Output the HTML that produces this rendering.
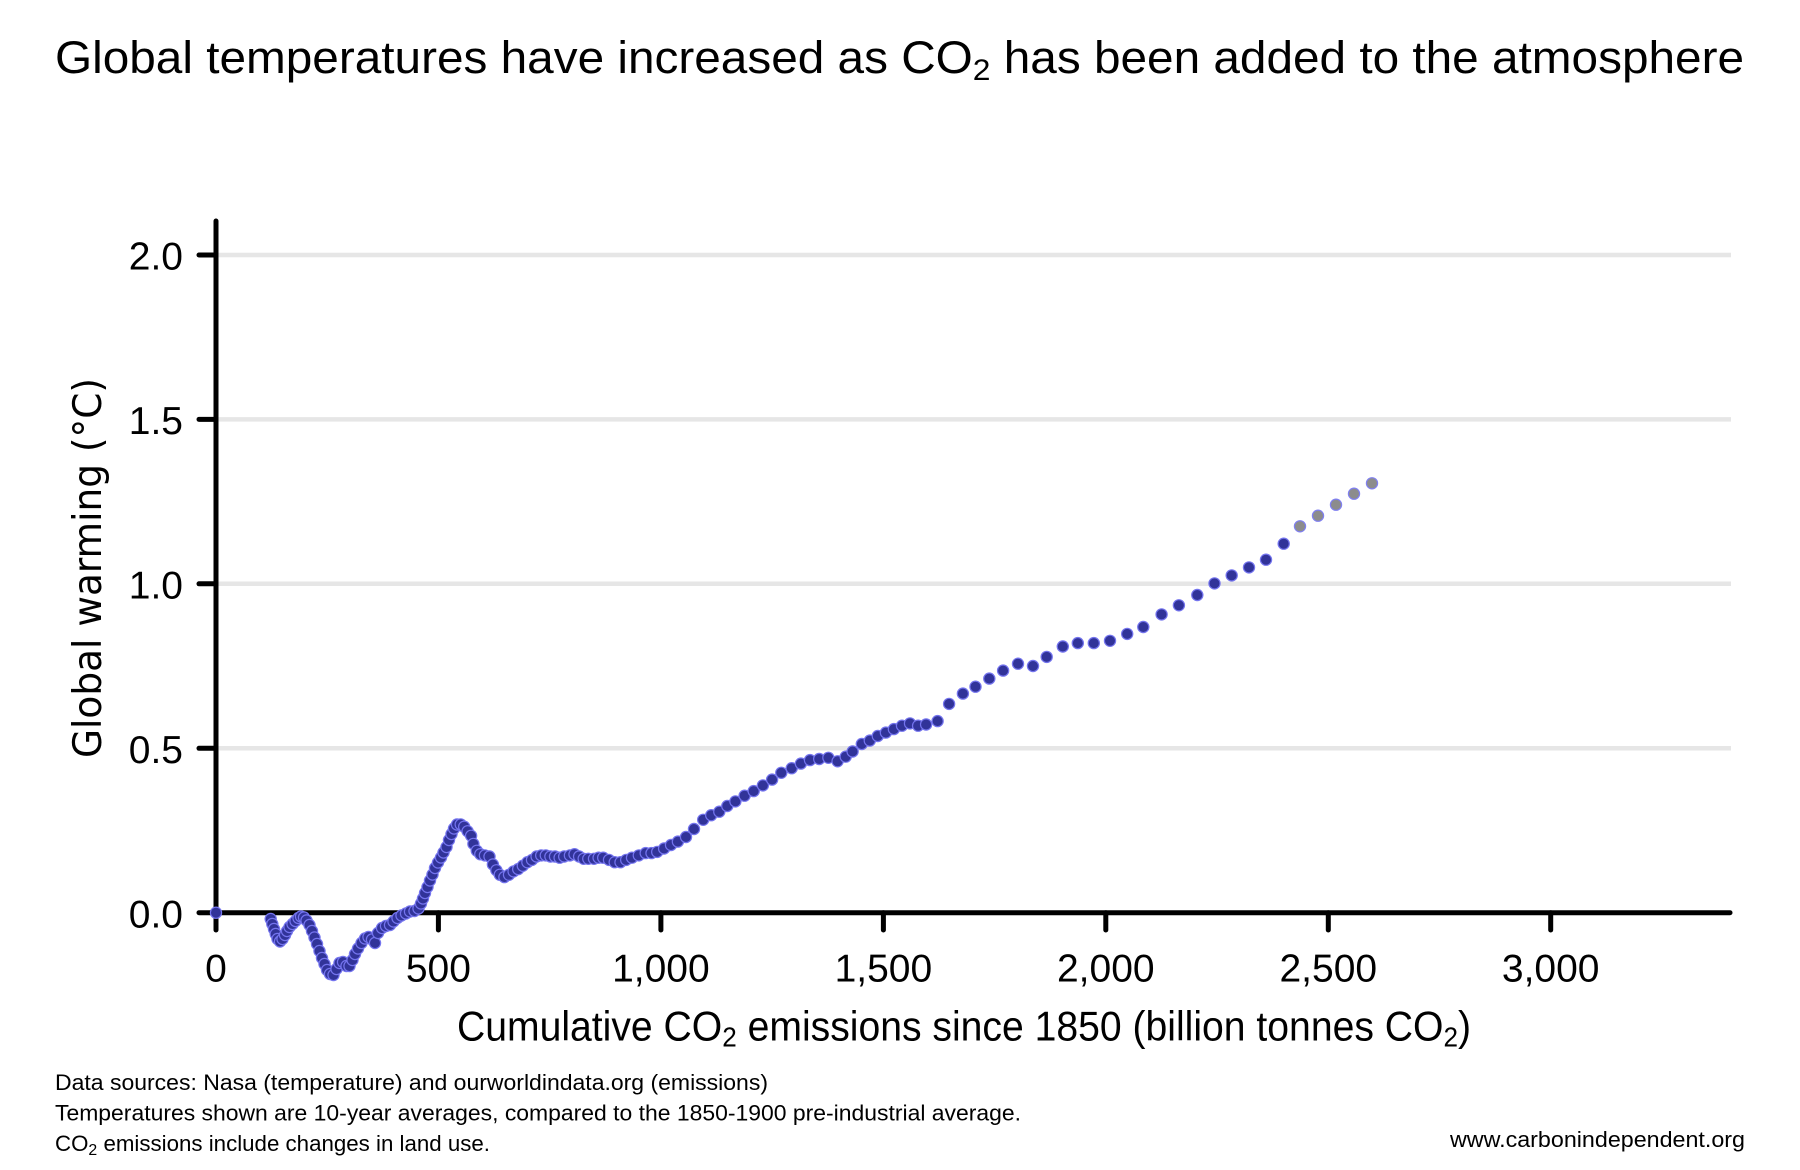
<!DOCTYPE html>
<html>
<head>
<meta charset="utf-8">
<style>
  html, body { margin: 0; padding: 0; background: #ffffff; }
  svg { display: block; }
  text { font-family: "Liberation Sans", "DejaVu Sans", sans-serif; fill: #000; }
</style>
</head>
<body>
<svg xmlns="http://www.w3.org/2000/svg" width="1800" height="1170" viewBox="0 0 1800 1170">
  <rect x="0" y="0" width="1800" height="1170" fill="#ffffff"/>

  <!-- Title -->
  <text x="55" y="73" font-size="45" textLength="1689" lengthAdjust="spacingAndGlyphs">Global temperatures have increased as CO<tspan font-size="30" dy="7">2</tspan><tspan dy="-7"> has been added to the atmosphere</tspan></text>

  <!-- Gridlines -->
  <g stroke="#e6e6e6" stroke-width="4.5">
    <line x1="218" y1="255" x2="1731" y2="255"/>
    <line x1="218" y1="419.4" x2="1731" y2="419.4"/>
    <line x1="218" y1="583.8" x2="1731" y2="583.8"/>
    <line x1="218" y1="748.3" x2="1731" y2="748.3"/>
  </g>

  <!-- Axes -->
  <g stroke="#000" stroke-width="5" stroke-linecap="round">
    <line x1="216" y1="221" x2="216" y2="930"/>
    <line x1="216" y1="912.7" x2="1730" y2="912.7"/>
    <line x1="199" y1="255" x2="216" y2="255"/>
    <line x1="199" y1="419.4" x2="216" y2="419.4"/>
    <line x1="199" y1="583.8" x2="216" y2="583.8"/>
    <line x1="199" y1="748.3" x2="216" y2="748.3"/>
    <line x1="199" y1="912.7" x2="216" y2="912.7"/>
    <line x1="438.4" y1="912.7" x2="438.4" y2="930"/>
    <line x1="660.9" y1="912.7" x2="660.9" y2="930"/>
    <line x1="883.4" y1="912.7" x2="883.4" y2="930"/>
    <line x1="1105.8" y1="912.7" x2="1105.8" y2="930"/>
    <line x1="1328.3" y1="912.7" x2="1328.3" y2="930"/>
    <line x1="1550.7" y1="912.7" x2="1550.7" y2="930"/>
  </g>

  <!-- Y tick labels -->
  <g font-size="39" text-anchor="end">
    <text x="183" y="269.5">2.0</text>
    <text x="183" y="434">1.5</text>
    <text x="183" y="598.3">1.0</text>
    <text x="183" y="762.8">0.5</text>
    <text x="183" y="927.5">0.0</text>
  </g>

  <!-- X tick labels -->
  <g font-size="39" text-anchor="middle">
    <text x="216" y="981.5">0</text>
    <text x="438.4" y="981.5">500</text>
    <text x="660.9" y="981.5">1,000</text>
    <text x="883.4" y="981.5">1,500</text>
    <text x="1105.8" y="981.5">2,000</text>
    <text x="1328.3" y="981.5">2,500</text>
    <text x="1550.7" y="981.5">3,000</text>
  </g>

  <!-- X axis title -->
  <text x="457" y="1040.5" font-size="42" textLength="1014" lengthAdjust="spacingAndGlyphs">Cumulative CO<tspan font-size="28" dy="6">2</tspan><tspan dy="-6"> emissions since 1850 (billion tonnes CO</tspan><tspan font-size="28" dy="6">2</tspan><tspan dy="-6">)</tspan></text>

  <!-- Y axis title -->
  <text transform="translate(101,568) rotate(-90)" x="0" y="0" text-anchor="middle" font-size="39" textLength="380" lengthAdjust="spacingAndGlyphs" style="font-family:'DejaVu Sans','Liberation Sans',sans-serif;">Global warming (°C)</text>

  <!-- Data points (dark) -->
  <g fill="#313399" stroke="#7474ee" stroke-width="1.2">
    <circle cx="216" cy="912.7" r="5.6"/>
    <circle cx="270.7" cy="919" r="5.6"/>
    <circle cx="272.3" cy="924" r="5.6"/>
    <circle cx="274" cy="929" r="5.6"/>
    <circle cx="275.7" cy="934" r="5.6"/>
    <circle cx="277.5" cy="939" r="5.6"/>
    <circle cx="280" cy="941.5" r="5.6"/>
    <circle cx="282.5" cy="939" r="5.6"/>
    <circle cx="285" cy="935" r="5.6"/>
    <circle cx="287" cy="931" r="5.6"/>
    <circle cx="289.5" cy="927" r="5.6"/>
    <circle cx="292.5" cy="924" r="5.6"/>
    <circle cx="295.5" cy="921" r="5.6"/>
    <circle cx="298.5" cy="918" r="5.6"/>
    <circle cx="301" cy="916.5" r="5.6"/>
    <circle cx="304" cy="917.5" r="5.6"/>
    <circle cx="306.5" cy="920.5" r="5.6"/>
    <circle cx="309.5" cy="925" r="5.6"/>
    <circle cx="312" cy="931" r="5.6"/>
    <circle cx="314.5" cy="937.5" r="5.6"/>
    <circle cx="317" cy="944" r="5.6"/>
    <circle cx="319.5" cy="951" r="5.6"/>
    <circle cx="322" cy="958" r="5.6"/>
    <circle cx="324.5" cy="964" r="5.6"/>
    <circle cx="327" cy="970" r="5.6"/>
    <circle cx="330" cy="974" r="5.6"/>
    <circle cx="333.5" cy="975" r="5.6"/>
    <circle cx="336.5" cy="969" r="5.6"/>
    <circle cx="339.5" cy="963" r="5.6"/>
    <circle cx="343" cy="962" r="5.6"/>
    <circle cx="346.5" cy="966" r="5.6"/>
    <circle cx="349.5" cy="966" r="5.6"/>
    <circle cx="352.5" cy="960" r="5.6"/>
    <circle cx="355" cy="954" r="5.6"/>
    <circle cx="358" cy="948.5" r="5.6"/>
    <circle cx="361.5" cy="943" r="5.6"/>
    <circle cx="365" cy="938.5" r="5.6"/>
    <circle cx="368.5" cy="937" r="5.6"/>
    <circle cx="372" cy="939.5" r="5.6"/>
    <circle cx="375" cy="943" r="5.6"/>
    <circle cx="378" cy="933" r="5.6"/>
    <circle cx="382" cy="928" r="5.6"/>
    <circle cx="386" cy="926" r="5.6"/>
    <circle cx="390" cy="925" r="5.6"/>
    <circle cx="393.5" cy="921.5" r="5.6"/>
    <circle cx="397.5" cy="918" r="5.6"/>
    <circle cx="401.5" cy="915.5" r="5.6"/>
    <circle cx="406" cy="913.5" r="5.6"/>
    <circle cx="410" cy="911.5" r="5.6"/>
    <circle cx="414.5" cy="911" r="5.6"/>
    <circle cx="418.5" cy="908.5" r="5.6"/>
    <circle cx="421" cy="903.5" r="5.6"/>
    <circle cx="423" cy="898.5" r="5.6"/>
    <circle cx="425" cy="893" r="5.6"/>
    <circle cx="427.5" cy="887" r="5.6"/>
    <circle cx="430" cy="880.5" r="5.6"/>
    <circle cx="432.5" cy="874.5" r="5.6"/>
    <circle cx="435" cy="868" r="5.6"/>
    <circle cx="438" cy="862.5" r="5.6"/>
    <circle cx="441" cy="857.5" r="5.6"/>
    <circle cx="443.5" cy="852.5" r="5.6"/>
    <circle cx="446.5" cy="847" r="5.6"/>
    <circle cx="449" cy="840" r="5.6"/>
    <circle cx="451.5" cy="834" r="5.6"/>
    <circle cx="454" cy="828.5" r="5.6"/>
    <circle cx="457" cy="824.5" r="5.6"/>
    <circle cx="460.7" cy="824.4" r="5.6"/>
    <circle cx="464.2" cy="826.7" r="5.6"/>
    <circle cx="467.6" cy="831.3" r="5.6"/>
    <circle cx="471.1" cy="835.8" r="5.6"/>
    <circle cx="473.4" cy="843.9" r="5.6"/>
    <circle cx="476.8" cy="850.8" r="5.6"/>
    <circle cx="480.3" cy="854.2" r="5.6"/>
    <circle cx="484.9" cy="855.4" r="5.6"/>
    <circle cx="489.5" cy="856.5" r="5.6"/>
    <circle cx="492.9" cy="864.5" r="5.6"/>
    <circle cx="496.4" cy="870.3" r="5.6"/>
    <circle cx="499.8" cy="874.8" r="5.6"/>
    <circle cx="504.4" cy="877.1" r="5.6"/>
    <circle cx="509" cy="874.8" r="5.6"/>
    <circle cx="513.6" cy="871.4" r="5.6"/>
    <circle cx="518.2" cy="869.1" r="5.6"/>
    <circle cx="522.8" cy="865.7" r="5.6"/>
    <circle cx="527.4" cy="862.2" r="5.6"/>
    <circle cx="532" cy="859.9" r="5.6"/>
    <circle cx="536.6" cy="856.5" r="5.6"/>
    <circle cx="541.2" cy="855.4" r="5.6"/>
    <circle cx="545.8" cy="855.4" r="5.6"/>
    <circle cx="550.4" cy="856.5" r="5.6"/>
    <circle cx="555" cy="856.5" r="5.6"/>
    <circle cx="559.6" cy="857.7" r="5.6"/>
    <circle cx="564.2" cy="856.5" r="5.6"/>
    <circle cx="569.9" cy="855.4" r="5.6"/>
    <circle cx="574.5" cy="854.2" r="5.6"/>
    <circle cx="579.1" cy="856.5" r="5.6"/>
    <circle cx="583.7" cy="858.8" r="5.6"/>
    <circle cx="588.3" cy="858.8" r="5.6"/>
    <circle cx="594" cy="858.8" r="5.6"/>
    <circle cx="598.6" cy="857.7" r="5.6"/>
    <circle cx="603.2" cy="857.7" r="5.6"/>
    <circle cx="609" cy="859.9" r="5.6"/>
    <circle cx="614.7" cy="862.2" r="5.6"/>
    <circle cx="620.5" cy="862.2" r="5.6"/>
    <circle cx="626.2" cy="859.9" r="5.6"/>
    <circle cx="632" cy="857.7" r="5.6"/>
    <circle cx="638.8" cy="855.4" r="5.6"/>
    <circle cx="645.7" cy="853.1" r="5.6"/>
    <circle cx="651.5" cy="853.1" r="5.6"/>
    <circle cx="657.2" cy="851.9" r="5.6"/>
    <circle cx="664.1" cy="848.5" r="5.6"/>
    <circle cx="671" cy="845" r="5.6"/>
    <circle cx="677.9" cy="841.6" r="5.6"/>
    <circle cx="686" cy="837" r="5.6"/>
    <circle cx="694" cy="829" r="5.6"/>
    <circle cx="703.2" cy="819.8" r="5.6"/>
    <circle cx="711.2" cy="815.2" r="5.6"/>
    <circle cx="719.3" cy="811.7" r="5.6"/>
    <circle cx="727.3" cy="806" r="5.6"/>
    <circle cx="735.4" cy="801.4" r="5.6"/>
    <circle cx="744.6" cy="795.7" r="5.6"/>
    <circle cx="753.7" cy="791.1" r="5.6"/>
    <circle cx="762.9" cy="785.4" r="5.6"/>
    <circle cx="772.1" cy="779.6" r="5.6"/>
    <circle cx="781.3" cy="772.8" r="5.6"/>
    <circle cx="791.7" cy="768.2" r="5.6"/>
    <circle cx="800.9" cy="763.6" r="5.6"/>
    <circle cx="810" cy="760.1" r="5.6"/>
    <circle cx="819.2" cy="759" r="5.6"/>
    <circle cx="828.4" cy="757.8" r="5.6"/>
    <circle cx="837.6" cy="761.3" r="5.6"/>
    <circle cx="845.7" cy="756.7" r="5.6"/>
    <circle cx="852.6" cy="751.5" r="5.6"/>
    <circle cx="861.8" cy="744" r="5.6"/>
    <circle cx="869.8" cy="740.6" r="5.6"/>
    <circle cx="877.8" cy="736" r="5.6"/>
    <circle cx="885.9" cy="732.6" r="5.6"/>
    <circle cx="893.9" cy="729.1" r="5.6"/>
    <circle cx="902" cy="725.7" r="5.6"/>
    <circle cx="910" cy="723.4" r="5.6"/>
    <circle cx="918.1" cy="725.7" r="5.6"/>
    <circle cx="926.1" cy="724.5" r="5.6"/>
    <circle cx="937.6" cy="721.1" r="5.6"/>
    <circle cx="949.1" cy="703.9" r="5.6"/>
    <circle cx="962.9" cy="693.6" r="5.6"/>
    <circle cx="975.5" cy="686.7" r="5.6"/>
    <circle cx="989.3" cy="678.6" r="5.6"/>
    <circle cx="1003.1" cy="670.6" r="5.6"/>
    <circle cx="1018" cy="663.7" r="5.6"/>
    <circle cx="1033" cy="666" r="5.6"/>
    <circle cx="1046.7" cy="656.9" r="5.6"/>
    <circle cx="1062.8" cy="646.5" r="5.6"/>
    <circle cx="1077.8" cy="643.1" r="5.6"/>
    <circle cx="1093.8" cy="643.1" r="5.6"/>
    <circle cx="1110" cy="640.8" r="5.6"/>
    <circle cx="1127.2" cy="633.9" r="5.6"/>
    <circle cx="1143.3" cy="627" r="5.6"/>
    <circle cx="1161.6" cy="614.4" r="5.6"/>
    <circle cx="1178.9" cy="605.3" r="5.6"/>
    <circle cx="1197.3" cy="595" r="5.6"/>
    <circle cx="1214.5" cy="583.4" r="5.6"/>
    <circle cx="1231.7" cy="575.4" r="5.6"/>
    <circle cx="1249" cy="567.4" r="5.6"/>
    <circle cx="1266" cy="559.7" r="5.6"/>
    <circle cx="1283.7" cy="543.7" r="5.6"/>
  </g>

  <!-- Data points (grey, latest) -->
  <g fill="#8c8c8c" stroke="#8080f0" stroke-width="1.2">
    <circle cx="1300" cy="526.3" r="5.6"/>
    <circle cx="1318" cy="515.7" r="5.6"/>
    <circle cx="1336" cy="504.7" r="5.6"/>
    <circle cx="1354" cy="493.7" r="5.6"/>
    <circle cx="1372" cy="483.3" r="5.6"/>
  </g>

  <!-- Footnotes -->
  <g font-size="22.5">
    <text x="55" y="1090" textLength="713" lengthAdjust="spacingAndGlyphs">Data sources: Nasa (temperature) and ourworldindata.org (emissions)</text>
    <text x="55" y="1120.5" textLength="966" lengthAdjust="spacingAndGlyphs">Temperatures shown are 10-year averages, compared to the 1850-1900 pre-industrial average.</text>
    <text x="55" y="1151" textLength="435" lengthAdjust="spacingAndGlyphs">CO<tspan font-size="16" dy="4">2</tspan><tspan dy="-4"> emissions include changes in land use.</tspan></text>
    <text x="1450" y="1147" textLength="295" lengthAdjust="spacingAndGlyphs">www.carbonindependent.org</text>
  </g>
</svg>
</body>
</html>
